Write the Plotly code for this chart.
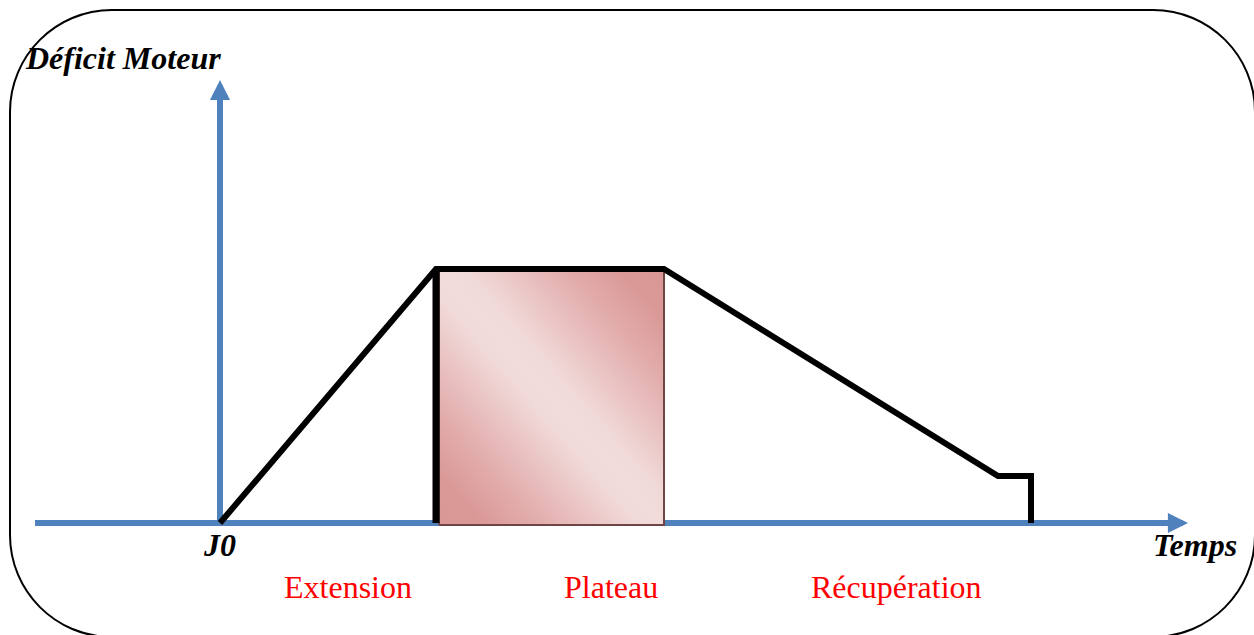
import numpy as np
import plotly.graph_objects as go

W, H = 1254, 635
X0, Y0 = 220, 523  # pixel position of the axes origin

# ---- data (time / motor deficit, arbitrary units) ----
time = [0, 216, 444, 778, 811, 811]
deficit = [0, 254, 254, 47, 47, 0]
plateau_x = [219, 444]
plateau_y = [-2, 254]
onset_x = [216, 216]
onset_y = [0, 254]
phase_labels = ["Extension", "Plateau", "Récupération"]
phase_label_x = [128, 391, 676]
x_axis_span = [-185, 968]
y_axis_span = [0, 443]

BLUE = "#4F81BD"
SERIF = "Liberation Serif"


def dx(X):
    return X - X0


def dy(Y):
    return Y0 - Y


fig = go.Figure()

# gradient fill of the plateau box
n = 80
gx = np.linspace(plateau_x[0], plateau_x[1], n + 1)
gy = np.linspace(plateau_y[0], plateau_y[1], n + 1)
c = (np.arange(n) + 0.5) / n
NX, NY = np.meshgrid(c, c)
Z = np.abs(NX + NY - 1.0)
fig.add_trace(go.Heatmap(
    x=gx, y=gy, z=Z, zsmooth="best", showscale=False, hoverinfo="skip",
    colorscale=[[0, "#F2DCDB"], [0.12, "#F0D9D8"], [0.55, "#E2ADAC"], [0.8, "#DA9997"], [1, "#D99694"]],
    zmin=0, zmax=1,
))
# box outline
fig.add_trace(go.Scatter(
    x=[plateau_x[0], plateau_x[1], plateau_x[1], plateau_x[0], plateau_x[0]],
    y=[plateau_y[0], plateau_y[0], plateau_y[1], plateau_y[1], plateau_y[0]],
    mode="lines", line=dict(color="#6E4444", width=2), hoverinfo="skip",
))
# vertical line at onset of plateau
fig.add_trace(go.Scatter(x=onset_x, y=onset_y, mode="lines",
                         line=dict(color="black", width=7), hoverinfo="skip"))
# main curve
fig.add_trace(go.Scatter(x=time, y=deficit, mode="lines",
                         line=dict(color="black", width=6), hoverinfo="skip"))

shapes = []
# axes lines (below)
shapes.append(dict(type="line", xref="x", yref="y", layer="below",
                   x0=x_axis_span[0], x1=x_axis_span[1] - 15, y0=0, y1=0,
                   line=dict(color=BLUE, width=6)))
shapes.append(dict(type="line", xref="x", yref="y", layer="below",
                   x0=0, x1=0, y0=y_axis_span[0], y1=y_axis_span[1] - 15,
                   line=dict(color=BLUE, width=6)))

# rounded frame
L, T, R, B, r = 10, 10, 1255, 637, 102
k = 0.5523 * r


def p(X, Y):
    return f"{dx(X):.2f},{dy(Y):.2f}"


path = (f"M{p(L + r, T)} L{p(R - r, T)} C{p(R - r + k, T)} {p(R, T + r - k)} {p(R, T + r)} "
        f"L{p(R, B - r)} C{p(R, B - r + k)} {p(R - r + k, B)} {p(R - r, B)} "
        f"L{p(L + r, B)} C{p(L + r - k, B)} {p(L, B - r + k)} {p(L, B - r)} "
        f"L{p(L, T + r)} C{p(L, T + r - k)} {p(L + r - k, T)} {p(L + r, T)} Z")
shapes.append(dict(type="path", xref="x", yref="y", layer="below", path=path,
                   line=dict(color="black", width=2)))

annotations = []
# arrow heads
annotations.append(dict(x=x_axis_span[1], y=0, ax=x_axis_span[1] - 30, ay=0,
                        xref="x", yref="y", axref="x", ayref="y", text="",
                        showarrow=True, arrowhead=2, arrowwidth=6, arrowsize=0.67,
                        arrowcolor=BLUE, standoff=0))
annotations.append(dict(x=0, y=y_axis_span[1], ax=0, ay=y_axis_span[1] - 30,
                        xref="x", yref="y", axref="x", ayref="y", text="",
                        showarrow=True, arrowhead=2, arrowwidth=6, arrowsize=0.67,
                        arrowcolor=BLUE, standoff=0))

bi = dict(family=SERIF, size=32, color="black", weight="bold", style="italic")
annotations.append(dict(x=dx(23), y=dy(58), xref="x", yref="y", text="Déficit Moteur",
                        showarrow=False, xanchor="left", yanchor="middle", font=bi))
annotations.append(dict(x=dx(219), y=dy(545), xref="x", yref="y", text="J0",
                        showarrow=False, xanchor="center", yanchor="middle", font=bi))
annotations.append(dict(x=dx(1195), y=dy(545), xref="x", yref="y", text="Temps",
                        showarrow=False, xanchor="center", yanchor="middle", font=bi))
for lab, lx in zip(phase_labels, phase_label_x):
    annotations.append(dict(x=lx, y=dy(587), xref="x", yref="y", text=lab,
                            showarrow=False, xanchor="center", yanchor="middle",
                            font=dict(family=SERIF, size=32, color="#FF0000")))

fig.update_layout(
    width=W, height=H, autosize=False,
    margin=dict(l=0, r=0, t=0, b=0, pad=0),
    paper_bgcolor="white", plot_bgcolor="white",
    showlegend=False,
    xaxis=dict(range=[dx(0), dx(W)], visible=False, fixedrange=True),
    yaxis=dict(range=[dy(H), dy(0)], visible=False, fixedrange=True),
    shapes=shapes, annotations=annotations,
)

fig.write_html(
    "out.html",
    config={"displayModeBar": False},
    post_script="document.body.style.margin='0';document.body.style.overflow='hidden';",
)
